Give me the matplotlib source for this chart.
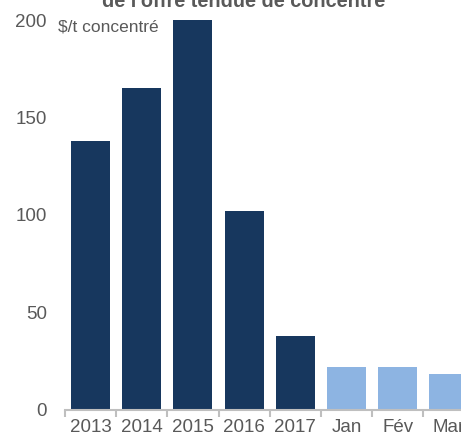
import matplotlib
matplotlib.use("Agg")
from matplotlib import pyplot as plt

categories = ["2013", "2014", "2015", "2016", "2017", "Jan", "Fév", "Mar"]
values = [138, 165, 200, 102, 38, 22, 22, 18]
colors = ["#17375E"] * 5 + ["#8DB4E2"] * 3
y_ticks = [0, 50, 100, 150, 200]

plt.rcParams["font.family"] = ["Liberation Sans", "DejaVu Sans"]

fig = plt.figure(figsize=(4.61, 4.41), dpi=100)
ax = fig.add_axes([0.141, 0.0714, 0.888, 0.8832])

x = range(len(categories))
ax.bar(x, values, width=0.76, color=colors)

ax.set_xlim(-0.5, 7.5)
ax.set_ylim(0, 200)
ax.set_yticks(y_ticks)
ax.set_xticks(list(x))
ax.set_xticklabels(categories)
# tick marks between categories
ax.set_xticks([i - 0.5 for i in range(len(categories) + 1)], minor=True)
ax.tick_params(axis="x", which="major", length=0, pad=7, labelsize=13.5, labelcolor="#595959")
ax.tick_params(axis="x", which="minor", length=5, width=1.5, color="#bfbfbf")
ax.tick_params(axis="y", length=0, pad=13, labelsize=13.5, labelcolor="#595959")

for s in ["top", "right", "left"]:
    ax.spines[s].set_visible(False)
ax.spines["bottom"].set_color("#bfbfbf")
ax.spines["bottom"].set_linewidth(1.5)

fig.text(0.126, 0.939, "$/t concentré", fontsize=12.5,
         color="#595959", ha="left", va="center")

# title partly cut off at the top
fig.text(0.528, 0.984, "de l'offre tendue de concentré", fontsize=14.3,
         fontweight="bold", color="#595959", ha="center", va="baseline")

plt.savefig("out.png", dpi=100)
